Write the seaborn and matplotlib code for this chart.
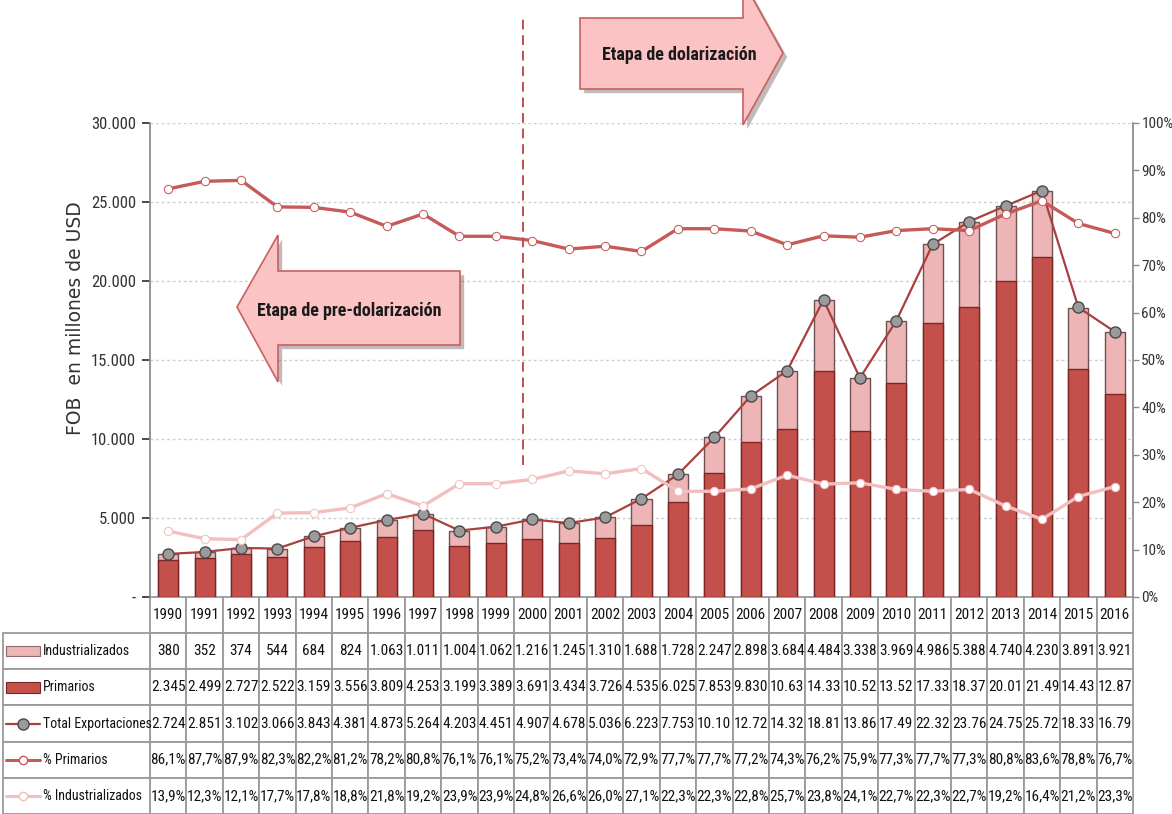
import numpy
import pandas
import seaborn
import matplotlib.pyplot as plot
from matplotlib import font_manager
from matplotlib.patches import Polygon, Rectangle
from matplotlib.ticker import FuncFormatter, MultipleLocator
import matplotlib.patheffects as pe

years = list(range(1990, 2017))
industrializados = [380, 352, 374, 544, 684, 824, 1063, 1011, 1004, 1062, 1216, 1245, 1310, 1688,
                    1728, 2247, 2898, 3684, 4484, 3338, 3969, 4986, 5388, 4740, 4230, 3891, 3921]
primarios = [2345, 2499, 2727, 2522, 3159, 3556, 3809, 4253, 3199, 3389, 3691, 3434, 3726, 4535,
             6025, 7853, 9830, 10630, 14330, 10520, 13520, 17330, 18370, 20010, 21490, 14430, 12870]
total = [2724, 2851, 3102, 3066, 3843, 4381, 4873, 5264, 4203, 4451, 4907, 4678, 5036, 6223,
         7753, 10100, 12720, 14320, 18810, 13860, 17490, 22320, 23760, 24750, 25720, 18330, 16790]
pct_primarios = [86.1, 87.7, 87.9, 82.3, 82.2, 81.2, 78.2, 80.8, 76.1, 76.1, 75.2, 73.4, 74.0, 72.9,
                 77.7, 77.7, 77.2, 74.3, 76.2, 75.9, 77.3, 77.7, 77.3, 80.8, 83.6, 78.8, 76.7]
pct_industrializados = [13.9, 12.3, 12.1, 17.7, 17.8, 18.8, 21.8, 19.2, 23.9, 23.9, 24.8, 26.6, 26.0, 27.1,
                        22.3, 22.3, 22.8, 25.7, 23.8, 24.1, 22.7, 22.3, 22.7, 19.2, 16.4, 21.2, 23.3]
row_names = ["Industrializados", "Primarios", "Total Exportaciones", "% Primarios", "% Industrializados"]

df = pandas.DataFrame({"year": years, "ind": industrializados, "prim": primarios, "total": total,
                       "p_prim": pct_primarios, "p_ind": pct_industrializados})
df["pos"] = numpy.arange(len(df))
df["stack"] = df["prim"] + df["ind"]


def miles(v):
    if v >= 10000:
        return f"{v / 1000:.2f}"
    return f"{v:,}".replace(",", ".")


def pct(p):
    return f"{p:.1f}%".replace(".", ",")


# look for a narrow face (the original uses a condensed Calibri-like font)
names = {f.name for f in font_manager.fontManager.ttflist}
NARROW, STRETCH, SCALE = None, 'normal', 1.0
for n in ['Liberation Sans Narrow', 'Noto Sans Condensed', 'Noto Sans SemiCondensed',
          'Roboto Condensed', 'Open Sans Condensed', 'DejaVu Sans Condensed']:
    if n in names:
        NARROW = n
        break
if NARROW is None:
    for want in ['condensed', 'semi-condensed']:
        for f in font_manager.fontManager.ttflist:
            if f.name in ('Noto Sans', 'DejaVu Sans') and f.stretch == want:
                NARROW, STRETCH = f.name, want
                break
        if NARROW:
            break
if NARROW is None:
    NARROW, SCALE = 'Roboto', 0.82

seaborn.set_theme(style="white")
plot.rcParams['font.family'] = [NARROW, 'DejaVu Sans']
plot.rcParams['font.stretch'] = STRETCH

FS_TAB = 11 * SCALE
FS_LAB = 10 * SCALE
FS_TICK = 12 * SCALE
FS_ARROW = 13 * SCALE

RED = '#C4504C'
PINK = '#EDB5B5'
LINE_RED = '#A8403E'
PCT_RED = '#C65A58'
PCT_PINK = '#F2BFBF'

fig = plot.figure(figsize=(11.72, 8.14), dpi=100)
ax = fig.add_axes([0.128, 0.2666, 0.8387, 0.5823])

# stacked bars: pink (top) drawn full height, red primarios over it
seaborn.barplot(data=df, x="year", y="stack", color=PINK, width=0.55, saturation=1,
                edgecolor='#6e5252', linewidth=1.0, ax=ax, zorder=2)
seaborn.barplot(data=df, x="year", y="prim", color=RED, width=0.55, saturation=1,
                edgecolor='#7a2624', linewidth=1.0, ax=ax, zorder=3)

seaborn.lineplot(data=df, x="pos", y="total", color=LINE_RED, linewidth=1.6, marker='o',
                 markersize=8, markerfacecolor='#9b9b9b', markeredgecolor='#4a4a4a',
                 markeredgewidth=1.0, ax=ax, zorder=5)

ax.set_xlim(-0.5, len(years) - 0.5)
ax.set_ylim(0, 30000)
ax.yaxis.set_major_locator(MultipleLocator(5000))
ax.yaxis.set_major_formatter(FuncFormatter(lambda v, p: '-' if v == 0 else f"{int(v):,}".replace(",", ".")))
ax.grid(axis='y', color='#cfcfcf', linestyle=(0, (2, 2)), linewidth=1.0)
ax.set_axisbelow(True)
ax.tick_params(axis='x', bottom=False, labelbottom=False)
ax.tick_params(axis='y', left=False, labelsize=FS_TICK, pad=4, colors='#333333')
ax.set_xlabel('')
ax.set_ylabel('FOB  en millones de USD', family='DejaVu Sans', stretch='normal', fontsize=13.5,
              color='#333333')
ax.yaxis.set_label_coords(-0.066, 0.589)
for s in ['top', 'right', 'bottom']:
    ax.spines[s].set_visible(False)
ax.spines['left'].set_color('#8a8a8a')

ax2 = ax.twinx()
seaborn.lineplot(data=df, x="pos", y="p_prim", color=PCT_RED, linewidth=2.4, marker='o', markersize=6,
                 markerfacecolor='white', markeredgecolor=PCT_RED, ax=ax2)
seaborn.lineplot(data=df, x="pos", y="p_ind", color=PCT_PINK, linewidth=2.4, marker='o', markersize=6,
                 markerfacecolor='white', markeredgecolor=PCT_PINK, ax=ax2)
ax2.set_xlim(-0.5, len(years) - 0.5)
ax2.set_ylim(0, 100)
ax2.yaxis.set_major_locator(MultipleLocator(10))
ax2.yaxis.set_major_formatter(FuncFormatter(lambda v, p: f"{int(v)}%"))
ax2.tick_params(axis='y', right=True, length=4, width=1, color='#8a8a8a', labelcolor='#333333',
                labelsize=FS_TICK - 1, pad=2)
ax2.set_ylabel('')
ax2.set_xlabel('')
for s in ['top', 'left', 'bottom']:
    ax2.spines[s].set_visible(False)
ax2.spines['right'].set_color('#8a8a8a')

# dashed divider between periods
ax2.axvline(9.75, ymin=0.278, ymax=1.228, color='#C0504D', linestyle=(0, (5, 3)), linewidth=1.4,
            clip_on=False, zorder=7)

# data table below
h = 0.4578
cell_text = [[str(y) for y in years],
             [miles(v) for v in industrializados],
             [miles(v) for v in primarios],
             [miles(v) for v in total],
             [pct(v) for v in pct_primarios],
             [pct(v) for v in pct_industrializados]]
tbl = ax.table(cellText=cell_text, cellLoc='center', bbox=[0, -h, 1, h])
tbl.auto_set_font_size(False)
tbl.set_fontsize(FS_TAB)
for cell in tbl.get_celld().values():
    cell.set_edgecolor('#9a9a9a')
    cell.set_linewidth(1.3)
    cell.get_text().set_color('#111111')

lab_w = 0.1496
lab_tbl = ax.table(cellText=[[''] for _ in row_names], bbox=[-lab_w, -h, lab_w, h * 5 / 6])
for cell in lab_tbl.get_celld().values():
    cell.set_edgecolor('#9a9a9a')
    cell.set_linewidth(1.3)

rh = h / 6
x0, x1 = (6 - 150) / 983, (40 - 150) / 983
xm = (x0 + x1) / 2
for i, name in enumerate(row_names):
    yc = -(i + 1.5) * rh
    ax.text((43 - 150) / 983, yc, name, transform=ax.transAxes, ha='left', va='center',
            fontsize=FS_LAB, color='#111111')
    if i == 0:
        ax.add_patch(Rectangle((x0, yc - 0.011), x1 - x0, 0.022, transform=ax.transAxes, clip_on=False,
                               facecolor=PINK, edgecolor='#8a6a6a', linewidth=0.8))
    elif i == 1:
        ax.add_patch(Rectangle((x0, yc - 0.011), x1 - x0, 0.022, transform=ax.transAxes, clip_on=False,
                               facecolor=RED, edgecolor='#7a2624', linewidth=0.8))
    else:
        col = [LINE_RED, PCT_RED, PCT_PINK][i - 2]
        ax.plot([x0, x1], [yc, yc], transform=ax.transAxes, clip_on=False, color=col,
                linewidth=1.6 if i == 2 else 2.2)
        if i == 2:
            ax.plot([xm], [yc], transform=ax.transAxes, clip_on=False, marker='o', markersize=8,
                    markerfacecolor='#9b9b9b', markeredgecolor='#4a4a4a')
        else:
            ax.plot([xm], [yc], transform=ax.transAxes, clip_on=False, marker='o', markersize=6,
                    markerfacecolor='white', markeredgecolor=col)

# stage arrows (figure pixel coords converted to fractions)
W, H = 1172, 814


def fpts(pts):
    return [(x / W, 1 - y / H) for x, y in pts]


shadow = [pe.SimplePatchShadow(offset=(3, -3), alpha=0.35), pe.Normal()]
right_arrow = fpts([(580, 18), (743, 18), (743, -19), (783, 53), (743, 125), (743, 89), (580, 89)])
left_arrow = fpts([(237, 307), (278, 235), (278, 271), (460, 271), (460, 345), (278, 345), (278, 382)])
for pts in (right_arrow, left_arrow):
    fig.add_artist(Polygon(pts, closed=True, transform=fig.transFigure, facecolor='#FBC3C3',
                           edgecolor='#C86060', linewidth=1.2, path_effects=shadow, zorder=8))
fig.text(679 / W, 1 - 55 / H, 'Etapa de dolarización', ha='center', va='center', fontsize=FS_ARROW,
         fontweight='bold', color='#1a1a1a', zorder=9)
fig.text(349 / W, 1 - 311 / H, 'Etapa de pre-dolarización', ha='center', va='center', fontsize=FS_ARROW,
         fontweight='bold', color='#1a1a1a', zorder=9)

fig.savefig('out.png', dpi=100)
